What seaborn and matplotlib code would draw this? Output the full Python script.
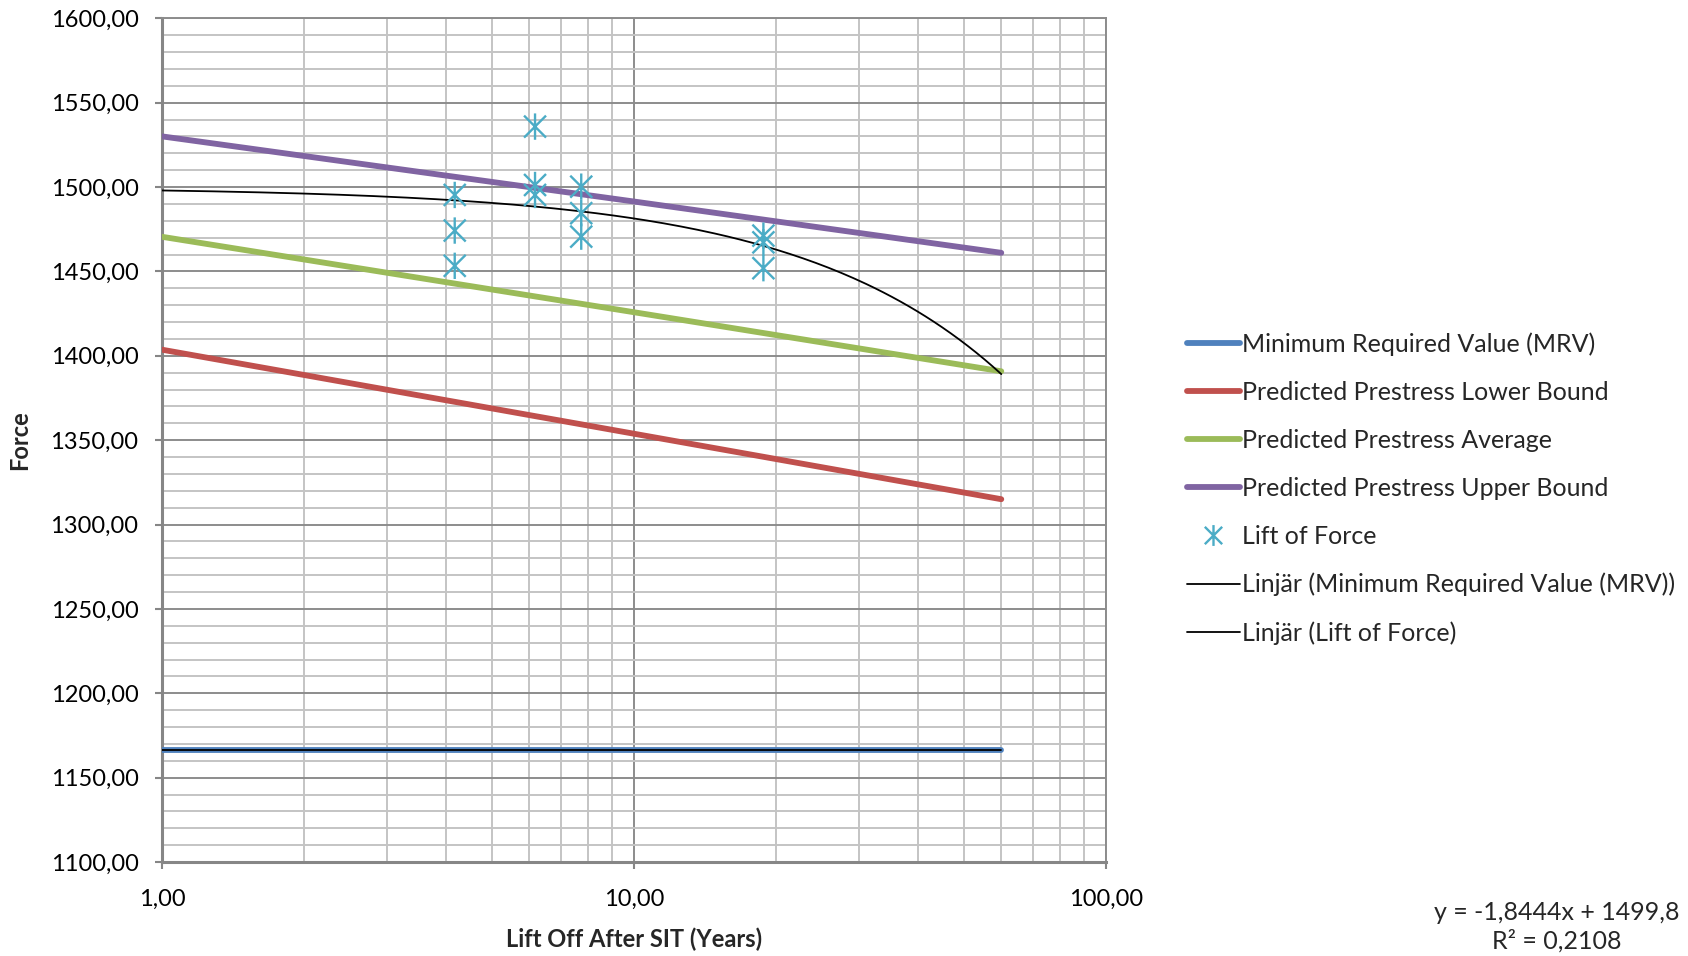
import numpy as np
import pandas as pd
import matplotlib
matplotlib.use("Agg")
import matplotlib.pyplot as plt
import seaborn as sns
from matplotlib.path import Path
from matplotlib.lines import Line2D
from matplotlib.ticker import LogLocator, MultipleLocator, FuncFormatter, FixedLocator, NullFormatter

# ---------------- data ----------------
line_years = [1.0, 10.0, 60.0]
mrv_values = [1166.5, 1166.5, 1166.5]
lower_bound = [1403.6, 1353.8, 1315.0]
average = [1470.5, 1425.8, 1390.8]
upper_bound = [1530.0, 1491.4, 1461.0]

lift_years = [4.17, 4.17, 4.17, 6.17, 6.17, 6.17, 7.73, 7.73, 7.73, 18.8, 18.8, 18.8]
lift_force = [1495.3, 1474.2, 1453.3, 1535.8, 1501.2, 1495.3,
              1500.2, 1484.5, 1470.6, 1471.2, 1467.2, 1451.9]

trend_slope = -1.8444
trend_intercept = 1499.8
trend_r2 = 0.2108

series_names = ["Minimum Required Value (MRV)", "Predicted Prestress Lower Bound",
                "Predicted Prestress Average", "Predicted Prestress Upper Bound"]
series_colors = ["#4F81BD", "#C0504D", "#9BBB59", "#8064A2"]
scatter_name = "Lift of Force"
scatter_color = "#4BACC6"
trend_names = ["Linjär (Minimum Required Value (MRV))", "Linjär (Lift of Force)"]

# ---------------- style ----------------
sns.set_theme(style="white")
plt.rcParams["font.family"] = ["Lato", "DejaVu Sans"]
FS = 17

fig = plt.figure(figsize=(16.88, 9.56), dpi=100)
ax = fig.add_axes([0.096, 0.0983, 0.5592, 0.8826])

ax.set_xscale("log")
ax.set_xlim(1, 100)
ax.set_ylim(1100, 1600)

# grid
ax.xaxis.set_major_locator(FixedLocator([1, 10, 100]))
ax.xaxis.set_minor_locator(LogLocator(base=10, subs=np.arange(2, 10)))
ax.xaxis.set_minor_formatter(NullFormatter())
ax.yaxis.set_major_locator(MultipleLocator(50))
ax.yaxis.set_minor_locator(MultipleLocator(10))
ax.grid(which="major", color="#8C8C8C", linewidth=1.4, zorder=0)
ax.grid(which="minor", color="#C4C4C4", linewidth=1.4, zorder=0)
ax.set_axisbelow(True)

fmt = lambda v, p: f"{v:.2f}".replace(".", ",")
ax.xaxis.set_major_formatter(FuncFormatter(fmt))
ax.yaxis.set_major_formatter(FuncFormatter(fmt))

# series lines
df_lines = pd.DataFrame({
    "x": line_years * 4,
    "y": mrv_values + lower_bound + average + upper_bound,
    "s": sum([[n] * len(line_years) for n in series_names], []),
})
sns.lineplot(data=df_lines, x="x", y="y", hue="s", palette=dict(zip(series_names, series_colors)),
             linewidth=4.2, ax=ax, legend=False, zorder=3, solid_capstyle="round")

# trendlines
xs = np.geomspace(line_years[0], line_years[-1], 200)
df_tr = pd.DataFrame({"x": xs, "y": trend_slope * xs + trend_intercept})
df_mrv = pd.DataFrame({"x": [line_years[0], line_years[-1]], "y": [mrv_values[0], mrv_values[-1]]})
sns.lineplot(data=df_mrv, x="x", y="y", color="black", linewidth=1.3, ax=ax, zorder=4)
sns.lineplot(data=df_tr, x="x", y="y", color="black", linewidth=1.3, ax=ax, zorder=4)

# scatter with asterisk marker
star = Path([(-1, -1), (1, 1), (-1, 1), (1, -1), (0, -1.2), (0, 1.2)],
            [Path.MOVETO, Path.LINETO, Path.MOVETO, Path.LINETO, Path.MOVETO, Path.LINETO])
df_sc = pd.DataFrame({"x": lift_years, "y": lift_force})
sns.scatterplot(data=df_sc, x="x", y="y", marker=star, s=360, facecolor="none",
                edgecolor=scatter_color, color=scatter_color, linewidth=1.7, ax=ax, zorder=5)

# spines & ticks
for side in ["left", "bottom"]:
    ax.spines[side].set_color("#868686")
    ax.spines[side].set_linewidth(2.2)
for side in ["top", "right"]:
    ax.spines[side].set_color("#8C8C8C")
    ax.spines[side].set_linewidth(1.4)
ax.tick_params(axis="both", which="major", direction="out", length=5, width=1.5,
               color="#868686", labelsize=FS, labelcolor="black")
ax.tick_params(axis="x", which="major", pad=14)
ax.tick_params(axis="y", which="major", pad=12)
ax.tick_params(which="minor", length=0)
ax.tick_params(axis="both", which="major", left=True, bottom=True)

ax.set_xlabel("Lift Off After SIT (Years)", fontsize=FS, fontweight="bold", labelpad=13)
ax.set_ylabel("Force", fontsize=FS, fontweight="bold", labelpad=14)

# legend
handles = [Line2D([0], [0], color=c, linewidth=4.2, solid_capstyle="round") for c in series_colors]
handles.append(Line2D([0], [0], linestyle="none", marker=star, markersize=15,
                      markeredgecolor=scatter_color, markerfacecolor="none", markeredgewidth=1.7))
handles += [Line2D([0], [0], color="black", linewidth=1.3) for _ in trend_names]
labels = series_names + [scatter_name] + trend_names
fig.legend(handles, labels, loc="center left", bbox_to_anchor=(0.69, 0.489), frameon=False,
           fontsize=FS + 1, handlelength=2.1, handletextpad=0.1, labelspacing=1.0)

# trendline equation text
eq = f"y = {trend_slope:.4f}x + {trend_intercept:.1f}".replace(".", ",")
r2 = f"R² = {trend_r2:.4f}".replace(".", ",")
fig.text(0.922, 0.045, eq, ha="center", va="center", fontsize=FS + 1)
fig.text(0.922, 0.016, r2, ha="center", va="center", fontsize=FS + 1)

fig.savefig("out.png", dpi=100)
